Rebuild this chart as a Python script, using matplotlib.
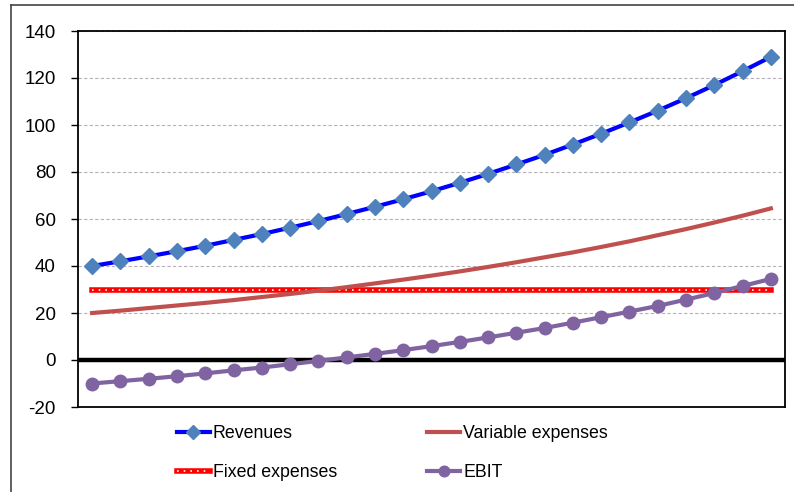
import matplotlib
matplotlib.use("Agg")
import matplotlib.pyplot as plt
from matplotlib.lines import Line2D

plt.rcParams["font.family"] = ["Liberation Sans", "DejaVu Sans"]
plt.rcParams["axes.unicode_minus"] = False

# Yearly figures
periods = list(range(1, 26))
revenues = [40.0, 42.0, 44.1, 46.3, 48.6, 51.1, 53.6, 56.3, 59.1, 62.1, 65.2, 68.4, 71.8,
            75.4, 79.2, 83.2, 87.3, 91.7, 96.3, 101.1, 106.1, 111.4, 117.0, 122.9, 129.0]
variable_expenses = [20.0, 21.0, 22.1, 23.2, 24.3, 25.5, 26.8, 28.1, 29.5, 31.0, 32.6, 34.2, 35.9,
                     37.7, 39.6, 41.6, 43.7, 45.8, 48.1, 50.5, 53.1, 55.7, 58.5, 61.4, 64.5]
fixed_expenses = [30.0] * 25
ebit = [-10.0, -9.0, -8.0, -6.9, -5.7, -4.4, -3.2, -1.8, -0.4, 1.1, 2.6, 4.2, 5.9,
        7.7, 9.6, 11.6, 13.6, 15.9, 18.2, 20.6, 23.0, 25.7, 28.5, 31.5, 34.5]
y_ticks = [-20, 0, 20, 40, 60, 80, 100, 120, 140]

W, H = 794, 492
fig = plt.figure(figsize=(W / 100, H / 100), dpi=100)
ax = fig.add_axes([78 / W, 1 - 407 / H, (785 - 78) / W, (407 - 31) / H])

x = list(range(len(periods)))

# gridlines and zero line
for t in y_ticks[2:]:
    ax.axhline(t, color="#b8b0b8", lw=0.8, ls=(0, (3, 2)), zorder=1)
ax.axhline(0, color="black", lw=3.2, zorder=2)

rev_line, = ax.plot(x, revenues, color="#0000ff", lw=3, marker="D", markersize=8,
                    markerfacecolor="#4f81bd", markeredgecolor="#4f81bd", zorder=5)
var_line, = ax.plot(x, variable_expenses, color="#c0504d", lw=3, zorder=4)
fix_line, = ax.plot(x, fixed_expenses, color="#ff0000", lw=4, zorder=3)
fix_dots, = ax.plot(x, fixed_expenses, color="white", lw=1.2, ls=(0, (1, 3)), zorder=3)
ebit_line, = ax.plot(x, ebit, color="#8064a2", lw=3, marker="o", markersize=9,
                     markerfacecolor="#8064a2", markeredgecolor="#8064a2", zorder=5)

ax.set_xlim(-0.5, len(periods) - 0.5)
ax.set_ylim(-20, 140)
ax.set_yticks(y_ticks)
ax.set_xticks([])
ax.tick_params(axis="y", direction="out", length=5, width=1, labelsize=13.5, pad=11)
for s in ax.spines.values():
    s.set_linewidth(1.3)
    s.set_color("black")

# legend filled column by column: left column Revenues / Fixed, right column Variable / EBIT
fig.legend([rev_line, (fix_line, fix_dots), var_line, ebit_line],
           ["Revenues", "Fixed expenses", "Variable expenses", "EBIT"],
           ncol=2, frameon=False, loc="upper left",
           bbox_to_anchor=(177 / W, 1 - 425 / H), borderpad=0, borderaxespad=0,
           handlelength=1.85, handletextpad=0.15, columnspacing=5.1,
           labelspacing=1.25, fontsize=12.8, markerscale=0.85)

# outer frame
fig.add_artist(Line2D([11 / W, 11 / W], [0, 1 - 5 / H], color="#444444", lw=1.2,
                      transform=fig.transFigure))
fig.add_artist(Line2D([11 / W, 1], [1 - 5 / H, 1 - 5 / H], color="#444444", lw=1.2,
                      transform=fig.transFigure))

fig.savefig("out.png", dpi=100)
